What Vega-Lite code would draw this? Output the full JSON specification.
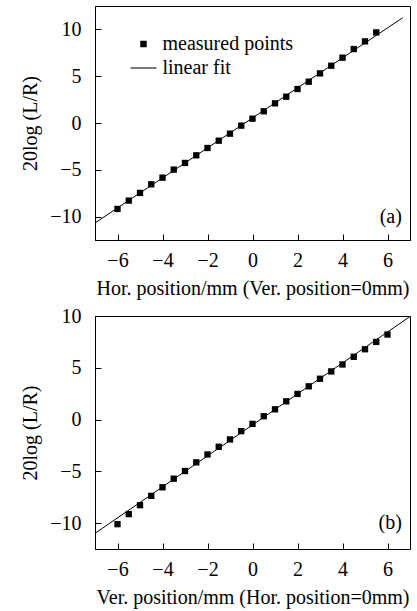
{
  "$schema": "https://vega.github.io/schema/vega-lite/v6.json",
  "padding": {"left": 20, "top": 5, "right": 5, "bottom": 5},
  "background": "white",
  "spacing": 6,
  "config": {
    "font": "Liberation Serif",
    "view": {"stroke": "black", "strokeWidth": 1},
    "axis": {
      "domainColor": "black", "tickColor": "black", "labelColor": "black", "titleColor": "black",
      "labelFont": "Liberation Serif", "titleFont": "Liberation Serif",
      "labelFontSize": 20, "titleFontSize": 20, "titleFontWeight": "normal",
      "grid": false, "tickSize": -6, "labelPadding": 20, "labelFlush": false, "labelOverlap": false
    },
    "axisY": {"titlePadding": 9},
    "axisX": {"titlePadding": 8, "labelPadding": 16},
    "legend": {
      "orient": "none", "legendX": 38.5, "legendY": 28, "padding": 0,
      "labelFont": "Liberation Serif", "labelFontSize": 20, "labelColor": "black",
      "symbolFillColor": "black", "symbolStrokeColor": "black", "symbolStrokeWidth": 0,
      "symbolSize": 42, "labelOffset": 9, "rowPadding": 4, "title": null
    }
  },
  "datasets": {
    "a_points": [
      {"x": -6, "y": -9.18, "series": "measured points"},
      {"x": -5.5, "y": -8.29, "series": "measured points"},
      {"x": -5, "y": -7.47, "series": "measured points"},
      {"x": -4.5, "y": -6.55, "series": "measured points"},
      {"x": -4, "y": -5.84, "series": "measured points"},
      {"x": -3.5, "y": -4.98, "series": "measured points"},
      {"x": -3, "y": -4.27, "series": "measured points"},
      {"x": -2.5, "y": -3.45, "series": "measured points"},
      {"x": -2, "y": -2.67, "series": "measured points"},
      {"x": -1.5, "y": -1.89, "series": "measured points"},
      {"x": -1, "y": -1.14, "series": "measured points"},
      {"x": -0.5, "y": -0.28, "series": "measured points"},
      {"x": 0, "y": 0.46, "series": "measured points"},
      {"x": 0.5, "y": 1.25, "series": "measured points"},
      {"x": 1, "y": 2.10, "series": "measured points"},
      {"x": 1.5, "y": 2.81, "series": "measured points"},
      {"x": 2, "y": 3.63, "series": "measured points"},
      {"x": 2.5, "y": 4.41, "series": "measured points"},
      {"x": 3, "y": 5.30, "series": "measured points"},
      {"x": 3.5, "y": 6.12, "series": "measured points"},
      {"x": 4, "y": 6.98, "series": "measured points"},
      {"x": 4.5, "y": 7.90, "series": "measured points"},
      {"x": 5, "y": 8.72, "series": "measured points"},
      {"x": 5.5, "y": 9.68, "series": "measured points"}
    ],
    "a_fit": [
      {"x": -7, "y": -10.68},
      {"x": 6.68, "y": 11.25}
    ],
    "a_label": [{"x": 6.64, "y": -10, "label": "(a)"}],
    "b_points": [
      {"x": -6, "y": -10.10},
      {"x": -5.5, "y": -9.13},
      {"x": -5, "y": -8.27},
      {"x": -4.5, "y": -7.37},
      {"x": -4, "y": -6.54},
      {"x": -3.5, "y": -5.71},
      {"x": -3, "y": -4.97},
      {"x": -2.5, "y": -4.13},
      {"x": -2, "y": -3.37},
      {"x": -1.5, "y": -2.63},
      {"x": -1, "y": -1.92},
      {"x": -0.5, "y": -1.12},
      {"x": 0, "y": -0.42},
      {"x": 0.5, "y": 0.32},
      {"x": 1, "y": 0.99},
      {"x": 1.5, "y": 1.76},
      {"x": 2, "y": 2.47},
      {"x": 2.5, "y": 3.21},
      {"x": 3, "y": 3.94},
      {"x": 3.5, "y": 4.65},
      {"x": 4, "y": 5.32},
      {"x": 4.5, "y": 6.06},
      {"x": 5, "y": 6.79},
      {"x": 5.5, "y": 7.50},
      {"x": 6, "y": 8.21}
    ],
    "b_fit": [
      {"x": -7, "y": -10.99},
      {"x": 7, "y": 9.95}
    ],
    "b_label": [{"x": 6.64, "y": -10, "label": "(b)"}]
  },
  "vconcat": [
    {
      "width": 315,
      "height": 234,
      "encoding": {
        "x": {"field": "x", "type": "quantitative", "scale": {"domain": [-7, 7], "nice": false},
              "axis": {"values": [-6, -4, -2, 0, 2, 4, 6], "title": "Hor. position/mm (Ver. position=0mm)"}},
        "y": {"field": "y", "type": "quantitative", "scale": {"domain": [-12.5, 12.5], "nice": false},
              "axis": {"values": [-10, -5, 0, 5, 10], "title": "20log (L/R)"}}
      },
      "layer": [
        {"data": {"name": "a_fit"}, "mark": {"type": "line", "color": "black", "strokeWidth": 1, "clip": true}},
        {"data": {"name": "a_points"},
         "mark": {"type": "point", "filled": true, "color": "black", "size": 40, "opacity": 1},
         "encoding": {
           "shape": {"field": "series", "type": "nominal",
                     "scale": {"domain": ["measured points", "linear fit"], "range": ["square", "M-4,-0.16L4,-0.16L4,0.16L-4,0.16Z"]},
                     "legend": {"title": null,
                                "encode": {"symbols": {"update": {"fill": {"value": "black"}, "opacity": {"value": 1}}}}}}
         }},
        {"data": {"name": "a_label"}, "mark": {"type": "text", "align": "right", "baseline": "middle", "fontSize": 20, "font": "Liberation Serif", "color": "black"},
         "encoding": {"text": {"field": "label"}}}
      ]
    },
    {
      "width": 315,
      "height": 233,
      "encoding": {
        "x": {"field": "x", "type": "quantitative", "scale": {"domain": [-7, 7], "nice": false},
              "axis": {"values": [-6, -4, -2, 0, 2, 4, 6], "title": "Ver. position/mm (Hor. position=0mm)"}},
        "y": {"field": "y", "type": "quantitative", "scale": {"domain": [-12.5, 10], "nice": false},
              "axis": {"values": [-10, -5, 0, 5, 10], "title": "20log (L/R)"}}
      },
      "layer": [
        {"data": {"name": "b_fit"}, "mark": {"type": "line", "color": "black", "strokeWidth": 1, "clip": true}},
        {"data": {"name": "b_points"},
         "mark": {"type": "point", "filled": true, "color": "black", "size": 40, "opacity": 1, "shape": "square"}},
        {"data": {"name": "b_label"}, "mark": {"type": "text", "align": "right", "baseline": "middle", "fontSize": 20, "font": "Liberation Serif", "color": "black"},
         "encoding": {"text": {"field": "label"}}}
      ]
    }
  ],
  "resolve": {"scale": {"x": "independent", "y": "independent", "shape": "independent"}, "legend": {"shape": "independent"}}
}
